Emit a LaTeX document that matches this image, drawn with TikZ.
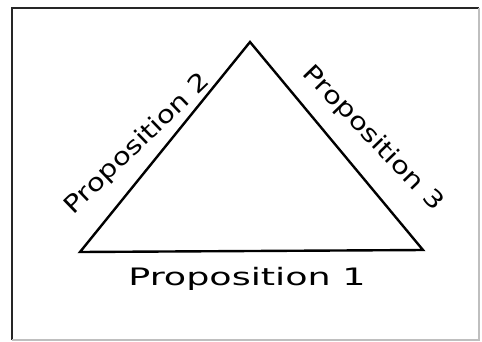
\documentclass[tikz,border=0pt]{standalone}
\usepackage{fontspec}
\setmainfont{DejaVu Sans}
\begin{document}
\begin{tikzpicture}[x=1pt,y=-1pt,
  tri/.style={line width=2.4pt,line join=miter},
  frame/.style={line width=2pt},
  lab/.style={font=\fontsize{24}{26}\selectfont,inner sep=0pt,anchor=base}]
\useasboundingbox (0,0) rectangle (482,341);
\fill[white] (0,0) rectangle (482,341);
\coordinate (fbl) at (12,340);
\coordinate (ftl) at (12,8);
\coordinate (ftr) at (479,8);
\coordinate (fbr) at (479,340);
\draw[frame,black!85] (fbl) -- (ftl) -- (ftr);
\draw[frame,black!25] (ftr) -- (fbr) -- (fbl);
\coordinate (A) at (250,42);
\coordinate (B) at (80,252);
\coordinate (C) at (423,250);
\draw[tri] (A) -- (B) -- (C) -- cycle;
\node[lab,xscale=1.52] (p1) at (247,285) {Proposition 1};
\node[lab,rotate=44,xscale=1.22] (p2) at (142,149) {Proposition 2};
\node[lab,rotate=-46,xscale=1.22] (p3) at (368,143) {Proposition 3};
\end{tikzpicture}
\end{document}
